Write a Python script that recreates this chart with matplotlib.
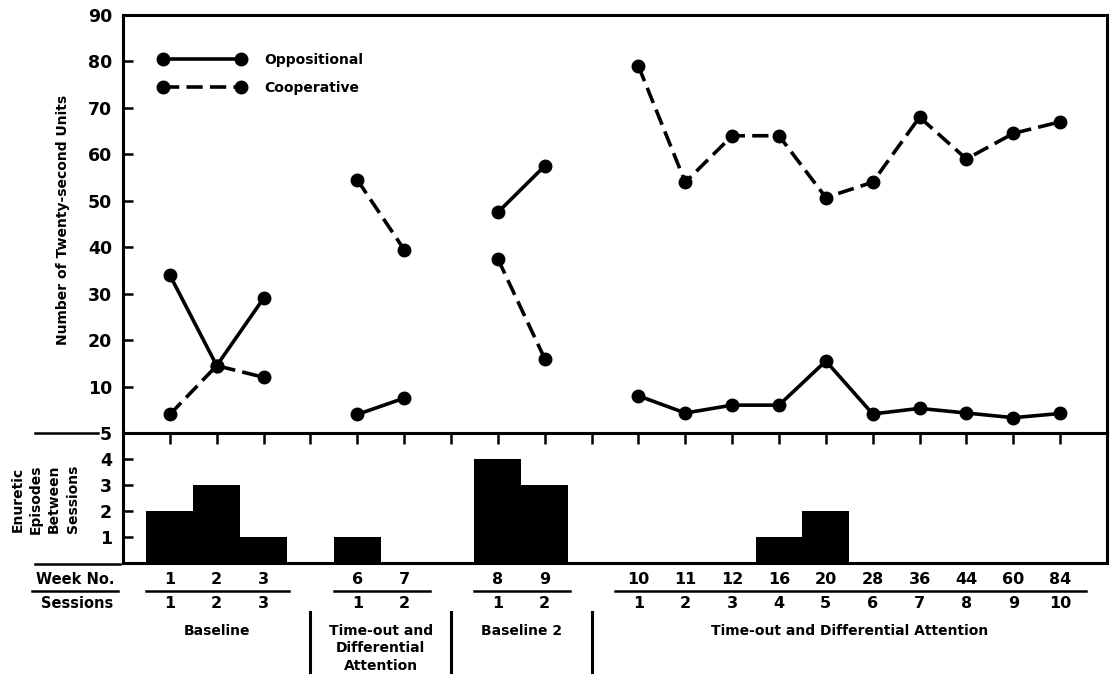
import numpy as np
import matplotlib.pyplot as plt
from matplotlib import transforms
from matplotlib.lines import Line2D

plt.rcParams['font.family'] = ['DejaVu Sans']
plt.rcParams['font.weight'] = 'bold'

# phases of the study
phases = ["Baseline", "Time-out and\nDifferential\nAttention", "Baseline 2",
          "Time-out and Differential Attention"]
weeks = [[1, 2, 3], [6, 7], [8, 9], [10, 11, 12, 16, 20, 28, 36, 44, 60, 84]]

# twenty-second units per session
oppositional = [[34, 14.5, 29], [4, 7.5], [47.5, 57.5],
                [8, 4.3, 6, 6, 15.5, 4.1, 5.3, 4.3, 3.3, 4.2]]
cooperative = [[4, 14.5, 12], [54.5, 39.5], [37.5, 16],
               [79, 54, 64, 64, 50.7, 54, 68, 59, 64.5, 67]]

# enuretic episodes between sessions
enuretic = [[2, 3, 1], [1, 0], [4, 3], [0, 0, 0, 1, 2, 0, 0, 0, 0, 0]]

# slot positions, one empty slot between phases
pos = []
start = 0
for w in weeks:
    pos.append(np.arange(len(w)) + start)
    start += len(w) + 1

W, H = 1118, 679
fig = plt.figure(figsize=(W / 100, H / 100), dpi=100)
ax = fig.add_axes([123 / W, 1 - 433 / H, 984 / W, 418 / H])
axb = fig.add_axes([123 / W, 1 - 563 / H, 984 / W, 130 / H])

LW = 2.6
for p, o, c in zip(pos, oppositional, cooperative):
    ax.plot(p, o, '-o', color='k', lw=LW, ms=9)
    ax.plot(p, c, marker='o', ls=(0, (4.5, 2)), color='k', lw=LW, ms=9)

ax.set_xlim(-1, 20)
ax.set_ylim(0, 90)
ax.set_xticks([])
ax.set_yticks(range(10, 100, 10))
ax.tick_params(axis='y', direction='in', length=7, width=1.8, labelsize=12.5, pad=8)

# legend
h1 = Line2D([], [], color='k', lw=LW, marker='o', ms=9)
h2 = Line2D([], [], color='k', lw=LW, marker='o', ms=9, ls=(0, (4.5, 2)))
ax.legend([h1, h2], ["Oppositional", "Cooperative"], loc='upper left',
          bbox_to_anchor=(36 / 984, (433 - 53) / 418), frameon=False,
          numpoints=2, handlelength=6.2, handletextpad=1.4, labelspacing=1.0,
          borderpad=0, borderaxespad=0, prop={'size': 10, 'weight': 'bold'})

# bars
axb.bar(np.concatenate(pos), np.concatenate(enuretic), width=1.0, color='k')
axb.set_xlim(-1, 20)
axb.set_ylim(0, 5)
axb.set_xticks(range(20))
axb.tick_params(axis='x', top=True, bottom=False, labeltop=False, labelbottom=False,
                direction='in', length=8, width=1.8)
axb.set_yticks([1, 2, 3, 4, 5])
axb.tick_params(axis='y', direction='in', length=7, width=1.8, labelsize=12.5, pad=8)

for a in (ax, axb):
    for s in a.spines.values():
        s.set_linewidth(2.2)

fig.text(63 / W, 1 - 220 / H, "Number of Twenty-second Units", rotation=90,
         ha='center', va='center', fontsize=10)
fig.text(45 / W, 1 - 499 / H, "Enuretic\nEpisodes\nBetween\nSessions", rotation=90,
         ha='center', va='center', fontsize=10, linespacing=1.4)

# decorative rules left of the panels
fl = [(35, 98, 433), (35, 120, 564), (32, 118, 591)]
for x0, x1, y in fl:
    fig.add_artist(Line2D([x0 / W, x1 / W], [1 - y / H] * 2, color='k', lw=1.8))

fig.text(75 / W, 1 - 580 / H, "Week No.", ha='center', va='center', fontsize=10.5)
fig.text(77 / W, 1 - 603 / H, "Sessions", ha='center', va='center', fontsize=10.5)

trans = transforms.blended_transform_factory(axb.transData, fig.transFigure)
for i, (p, w) in enumerate(zip(pos, weeks)):
    for x, wk, s in zip(p, w, range(1, len(w) + 1)):
        axb.text(x, 1 - 580 / H, str(wk), transform=trans, ha='center', va='center',
                 fontsize=11.5)
        axb.text(x, 1 - 603 / H, str(s), transform=trans, ha='center', va='center',
                 fontsize=11.5)
    axb.plot([p[0] - 0.5, p[-1] + 0.55], [1 - 591 / H] * 2, transform=trans,
             clip_on=False, color='k', lw=1.8)
    axb.text(p.mean(), 1 - 624 / H, phases[i], transform=trans, ha='center', va='top',
             fontsize=10, linespacing=1.3)
    if i < len(pos) - 1:
        xs = p[-1] + 1
        axb.plot([xs, xs], [1 - 612 / H, 1 - 672 / H], transform=trans,
                 clip_on=False, color='k', lw=2.2)

fig.savefig("out.png", dpi=100)
